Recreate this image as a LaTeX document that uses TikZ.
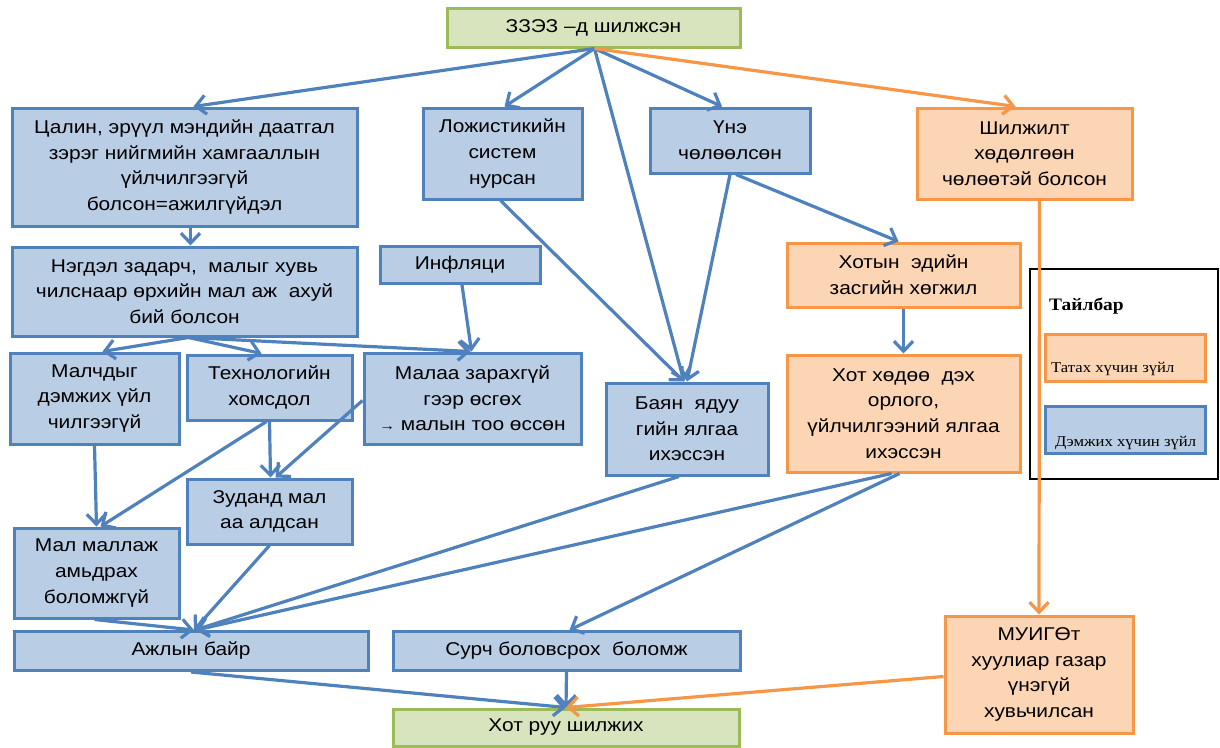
\documentclass[tikz,border=0pt]{standalone}
\usepackage{fontspec}
\setmainfont{Liberation Sans}[FakeStretch=1.13]
\newfontfamily\legfont{Liberation Serif}[FakeStretch=1.11]
\usetikzlibrary{arrows.meta}
\definecolor{bfill}{HTML}{B9CDE5}
\definecolor{bline}{HTML}{4F81BD}
\definecolor{ofill}{HTML}{FCD5B5}
\definecolor{oline}{HTML}{F79646}
\definecolor{gfill}{HTML}{D7E4BD}
\definecolor{gline}{HTML}{9BBB59}
\begin{document}
\begin{tikzpicture}[x=1pt,y=-1pt,
 box/.style={draw, line width=3pt, align=center, inner sep=0pt, font=\fontsize{18.5}{25.7}\selectfont},
 bbox/.style={box, fill=bfill, draw=bline},
 obox/.style={box, fill=ofill, draw=oline},
 gbox/.style={box, fill=gfill, draw=gline},
 sz/.style 2 args={minimum width=#1pt, minimum height=#2pt},
 barr/.style={draw=bline, line width=3.2pt, -{Straight Barb[length=10pt,width=19pt]}},
 oarr/.style={barr, draw=oline},
 legtext/.style={anchor=base west, inner sep=0pt, font=\legfont\fontsize{15}{18}\selectfont},
]
\useasboundingbox (0,0) rectangle (1220,747);
% nodes
\node[gbox, sz={293}{39}] (top) at (593.5,27.5) {ЗЗЭЗ –д шилжсэн};
\node[bbox, sz={345}{118}] (cal) at (184.5,167) {Цалин, эрүүл мэндийн даатгал\\зэрэг нийгмийн хамгааллын\\үйлчилгээгүй\\болсон=ажилгүйдэл};
\node[bbox, sz={159}{91}] (log) at (502.5,153.5) {Ложистикийн\\систем\\нурсан};
\node[bbox, sz={160}{65}] (une) at (730,140.5) {Үнэ\\чөлөөлсөн};
\node[obox, sz={215}{91}] (shil) at (1024.5,153.5) {Шилжилт\\хөдөлгөөн\\чөлөөтэй болсон};
\node[bbox, sz={345}{89}] (ned) at (184.5,291.5) {Нэгдэл задарч,\ \ малыг хувь\\чилснаар өрхийн мал аж\ \ ахуй\\бий болсон};
\node[bbox, sz={160}{37}] (inf) at (460,265) {Инфляци};
\node[bbox, sz={169}{91}] (mch) at (94.5,398.5) {Малчдыг\\дэмжих үйл\\чилгээгүй};
\node[bbox, sz={165}{65}] (tech) at (269.5,387.5) {Технологийн\\хомсдол};
\node[bbox, sz={217}{91}] (mal) at (472.5,398.5) {Малаа зарахгүй\\гээр өсгөх\\{\fontsize{14}{16}\selectfont →} малын тоо өссөн};
\node[obox, sz={233}{64}] (hed) at (903.5,275) {Хотын\ \ эдийн\\засгийн хөгжил};
\node[obox, sz={233}{117}] (hhd) at (903.5,413.5) {Хот хөдөө\ \ дэх\\орлого,\\үйлчилгээний ялгаа\\ихэссэн};
\node[bbox, sz={162}{92}] (bay) at (687,429) {Баян\ \ ядуу\\гийн ялгаа\\ихэссэн};
\node[bbox, sz={165}{65}] (zud) at (269.5,511.5) {Зуданд мал\\аа алдсан};
\node[bbox, sz={165}{90}] (mm) at (96.5,573) {Мал маллаж\\амьдрах\\боломжгүй};
\node[bbox, sz={354}{39}] (ajl) at (191,651) {Ажлын байр};
\node[bbox, sz={347}{39}] (sur) at (566.5,651) {Сурч боловсрох\ \ боломж};
\node[gbox, sz={346}{37}] (hotr) at (566,727.5) {Хот руу шилжих};
\node[obox, sz={188}{117}] (mui) at (1039,674.5) {МУИГӨт\\хуулиар газар\\үнэгүй\\хувьчилсан};
% legend
\node[draw=black, line width=1.5pt, minimum width=188pt, minimum height=210pt, inner sep=0pt] (leg) at (1124,374) {};
\node[anchor=base west, inner sep=0pt, font=\legfont\bfseries\fontsize{17.5}{20}\selectfont] (legt) at (1049,310) {Тайлбар};
\node[draw=oline, fill=ofill, line width=3pt, minimum width=160pt, minimum height=47pt, inner sep=0pt] (lego) at (1125,358) {};
\node[legtext] (legot) at (1051,372) {Татах хүчин зүйл};
\node[draw=bline, fill=bfill, line width=3pt, minimum width=160pt, minimum height=47pt, inner sep=0pt] (legb) at (1125,429.5) {};
\node[legtext] (legbt) at (1055,446) {Дэмжих хүчин зүйл};
% connectors
\draw[barr] ([xshift=1pt]top.south) -- ([xshift=9pt]cal.north);
\draw[barr] ([xshift=1pt]top.south) -- ([xshift=2pt]log.north);
\draw[barr] ([xshift=1pt]top.south) -- ([xshift=-3pt]bay.north);
\draw[barr] ([xshift=1pt]top.south) -- ([xshift=-8pt]une.north);
\draw[oarr] ([xshift=1pt]top.south) -- ([xshift=-9pt]shil.north);
\draw[barr] ([xshift=6pt]cal.south) -- ([xshift=6pt]ned.north);
\draw[barr] ([xshift=-2pt]log.south) -- ([xshift=-3pt]bay.north);
\draw[barr] (une.south) -- ([xshift=0pt]bay.north);
\draw[barr] ([xshift=6pt]une.south) -- ([xshift=-5pt]hed.north);
\draw[barr] ([xshift=4pt]ned.south) -- ([xshift=8pt]mch.north);
\draw[barr] ([xshift=4pt]ned.south) -- ([xshift=-8pt]tech.north);
\draw[barr] ([xshift=4pt]ned.south) -- ([xshift=-2pt]mal.north);
\draw[barr] ([xshift=2pt]inf.south) -- ([xshift=-1pt]mal.north);
\draw[barr] (tech.south) -- ([xshift=1pt]zud.north);
\draw[barr] ([yshift=-2pt]mal.west) -- ([xshift=6pt]zud.north);
\draw[barr] ([xshift=-3pt]tech.south) -- ([xshift=4pt]mm.north);
\draw[barr] (mch.south) -- ([xshift=0pt]mm.north);
\draw[barr] ([xshift=-2pt]mm.south) -- ([xshift=3pt]ajl.north);
\draw[barr] (zud.south) -- ([xshift=3pt]ajl.north);
\draw[barr] ([xshift=-8pt]bay.south) -- ([xshift=4pt]ajl.north);
\draw[barr] ([xshift=-12pt]hhd.south) -- ([xshift=5pt]ajl.north);
\draw[barr] ([xshift=-4pt]hhd.south) -- ([xshift=3pt]sur.north);
\draw[barr] (hed.south) -- (hhd.north);
\draw[oarr] ([xshift=15pt]shil.south) -- (mui.north);
\draw[barr] (ajl.south) -- (hotr.north);
\draw[barr] (sur.south) -- (hotr.north);
\draw[oarr] ([yshift=-2pt]mui.west) -- (hotr.north);
\end{tikzpicture}
\end{document}
